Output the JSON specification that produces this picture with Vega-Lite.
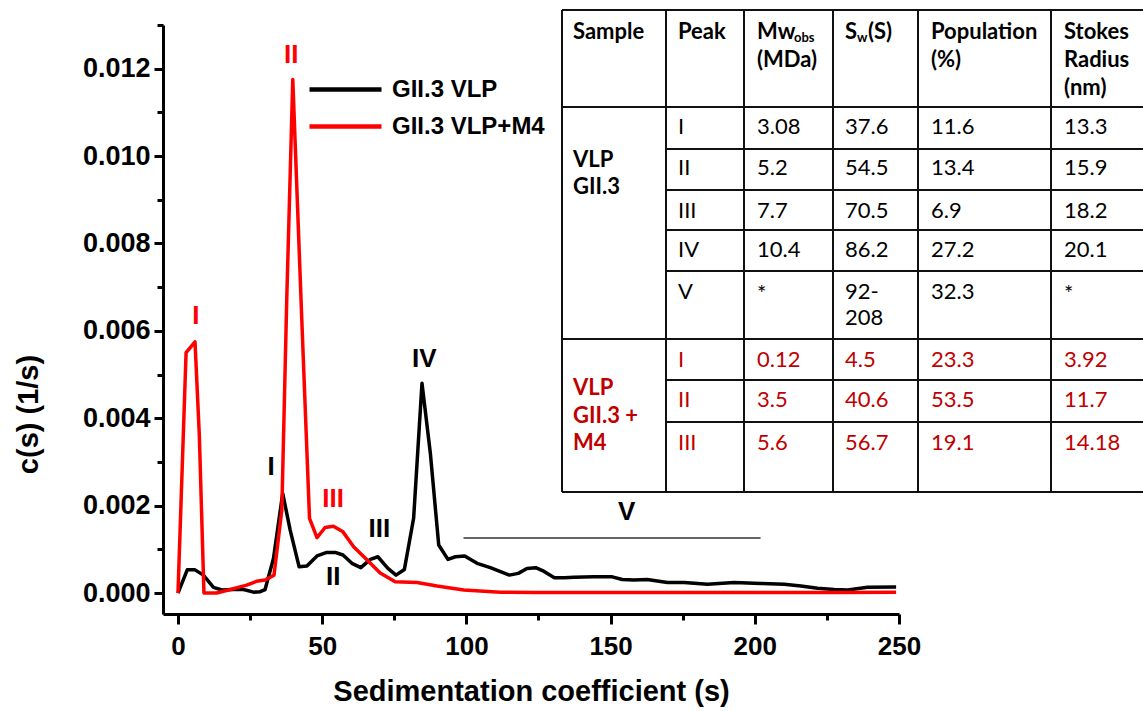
{
  "$schema": "https://vega.github.io/schema/vega-lite/v6.json",
  "width": 736,
  "height": 589,
  "autosize": {"type": "none"},
  "padding": {"left": 163, "top": 25, "right": 244, "bottom": 97},
  "background": "white",
  "config": {"view": {"stroke": null}, "font": "Liberation Sans"},
  "datasets": {
    "curves": [
      {"series": "GII.3 VLP", "s": 0, "c": 0},
      {"series": "GII.3 VLP", "s": 3.2, "c": 0.00053},
      {"series": "GII.3 VLP", "s": 5.9, "c": 0.00053},
      {"series": "GII.3 VLP", "s": 8.8, "c": 0.00041},
      {"series": "GII.3 VLP", "s": 12.3, "c": 0.00013},
      {"series": "GII.3 VLP", "s": 15.2, "c": 0.00007},
      {"series": "GII.3 VLP", "s": 19.2, "c": 0.00008},
      {"series": "GII.3 VLP", "s": 22.7, "c": 0.00008},
      {"series": "GII.3 VLP", "s": 26.2, "c": 0.00002},
      {"series": "GII.3 VLP", "s": 28.5, "c": 0.00003},
      {"series": "GII.3 VLP", "s": 30.2, "c": 0.00008},
      {"series": "GII.3 VLP", "s": 33.1, "c": 0.00079},
      {"series": "GII.3 VLP", "s": 36.3, "c": 0.00228},
      {"series": "GII.3 VLP", "s": 38.9, "c": 0.00144},
      {"series": "GII.3 VLP", "s": 42.0, "c": 0.0006},
      {"series": "GII.3 VLP", "s": 44.7, "c": 0.00062},
      {"series": "GII.3 VLP", "s": 48.2, "c": 0.00085},
      {"series": "GII.3 VLP", "s": 51.6, "c": 0.00093},
      {"series": "GII.3 VLP", "s": 54.5, "c": 0.00093},
      {"series": "GII.3 VLP", "s": 57.2, "c": 0.00087},
      {"series": "GII.3 VLP", "s": 60.3, "c": 0.00068},
      {"series": "GII.3 VLP", "s": 63.4, "c": 0.00058},
      {"series": "GII.3 VLP", "s": 66.7, "c": 0.00077},
      {"series": "GII.3 VLP", "s": 69.3, "c": 0.00083},
      {"series": "GII.3 VLP", "s": 72.7, "c": 0.00057},
      {"series": "GII.3 VLP", "s": 75.6, "c": 0.00041},
      {"series": "GII.3 VLP", "s": 78.5, "c": 0.00054},
      {"series": "GII.3 VLP", "s": 81.7, "c": 0.00171},
      {"series": "GII.3 VLP", "s": 84.6, "c": 0.0048},
      {"series": "GII.3 VLP", "s": 87.5, "c": 0.0032},
      {"series": "GII.3 VLP", "s": 90.4, "c": 0.0011},
      {"series": "GII.3 VLP", "s": 93.6, "c": 0.00077},
      {"series": "GII.3 VLP", "s": 96.2, "c": 0.00083},
      {"series": "GII.3 VLP", "s": 99.4, "c": 0.00085},
      {"series": "GII.3 VLP", "s": 103.7, "c": 0.00068},
      {"series": "GII.3 VLP", "s": 108.3, "c": 0.00058},
      {"series": "GII.3 VLP", "s": 111.8, "c": 0.00049},
      {"series": "GII.3 VLP", "s": 114.9, "c": 0.00041},
      {"series": "GII.3 VLP", "s": 118.0, "c": 0.00045},
      {"series": "GII.3 VLP", "s": 121.0, "c": 0.00056},
      {"series": "GII.3 VLP", "s": 124.0, "c": 0.00058},
      {"series": "GII.3 VLP", "s": 126.8, "c": 0.0005},
      {"series": "GII.3 VLP", "s": 130.5, "c": 0.00035},
      {"series": "GII.3 VLP", "s": 134.0, "c": 0.00035},
      {"series": "GII.3 VLP", "s": 137.3, "c": 0.00036},
      {"series": "GII.3 VLP", "s": 144.2, "c": 0.00037},
      {"series": "GII.3 VLP", "s": 150.6, "c": 0.00037},
      {"series": "GII.3 VLP", "s": 154.0, "c": 0.00031},
      {"series": "GII.3 VLP", "s": 158.1, "c": 0.0003},
      {"series": "GII.3 VLP", "s": 162.7, "c": 0.00031},
      {"series": "GII.3 VLP", "s": 169.7, "c": 0.00024},
      {"series": "GII.3 VLP", "s": 175.5, "c": 0.00024},
      {"series": "GII.3 VLP", "s": 183.6, "c": 0.0002},
      {"series": "GII.3 VLP", "s": 192.8, "c": 0.00024},
      {"series": "GII.3 VLP", "s": 202.1, "c": 0.00022},
      {"series": "GII.3 VLP", "s": 210.2, "c": 0.0002},
      {"series": "GII.3 VLP", "s": 216.0, "c": 0.00016},
      {"series": "GII.3 VLP", "s": 221.8, "c": 0.00011},
      {"series": "GII.3 VLP", "s": 227.5, "c": 0.00008},
      {"series": "GII.3 VLP", "s": 232.2, "c": 0.00007},
      {"series": "GII.3 VLP", "s": 239.1, "c": 0.00013},
      {"series": "GII.3 VLP", "s": 249.0, "c": 0.00014},
      {"series": "GII.3 VLP+M4", "s": 0, "c": 0},
      {"series": "GII.3 VLP+M4", "s": 2.8, "c": 0.0055},
      {"series": "GII.3 VLP+M4", "s": 5.9, "c": 0.00575},
      {"series": "GII.3 VLP+M4", "s": 7.4, "c": 0.0036},
      {"series": "GII.3 VLP+M4", "s": 9.0, "c": 0},
      {"series": "GII.3 VLP+M4", "s": 13.4, "c": 0},
      {"series": "GII.3 VLP+M4", "s": 17.5, "c": 0.00007},
      {"series": "GII.3 VLP+M4", "s": 23.8, "c": 0.00018},
      {"series": "GII.3 VLP+M4", "s": 27.3, "c": 0.00027},
      {"series": "GII.3 VLP+M4", "s": 30.2, "c": 0.0003},
      {"series": "GII.3 VLP+M4", "s": 33.3, "c": 0.00041},
      {"series": "GII.3 VLP+M4", "s": 36.0, "c": 0.0019},
      {"series": "GII.3 VLP+M4", "s": 37.7, "c": 0.0067},
      {"series": "GII.3 VLP+M4", "s": 39.8, "c": 0.01175},
      {"series": "GII.3 VLP+M4", "s": 42.9, "c": 0.0063},
      {"series": "GII.3 VLP+M4", "s": 45.6, "c": 0.00171},
      {"series": "GII.3 VLP+M4", "s": 48.2, "c": 0.00127},
      {"series": "GII.3 VLP+M4", "s": 51.0, "c": 0.0015},
      {"series": "GII.3 VLP+M4", "s": 53.9, "c": 0.00153},
      {"series": "GII.3 VLP+M4", "s": 57.2, "c": 0.0014},
      {"series": "GII.3 VLP+M4", "s": 60.9, "c": 0.00106},
      {"series": "GII.3 VLP+M4", "s": 65.5, "c": 0.00076},
      {"series": "GII.3 VLP+M4", "s": 70.1, "c": 0.00046},
      {"series": "GII.3 VLP+M4", "s": 75.3, "c": 0.00026},
      {"series": "GII.3 VLP+M4", "s": 82.9, "c": 0.00024},
      {"series": "GII.3 VLP+M4", "s": 89.8, "c": 0.00016},
      {"series": "GII.3 VLP+M4", "s": 99.1, "c": 0.00007},
      {"series": "GII.3 VLP+M4", "s": 111.8, "c": 0.00002},
      {"series": "GII.3 VLP+M4", "s": 123.3, "c": 0.00001},
      {"series": "GII.3 VLP+M4", "s": 136.0, "c": 0.00001},
      {"series": "GII.3 VLP+M4", "s": 160.0, "c": 0.00001},
      {"series": "GII.3 VLP+M4", "s": 200.0, "c": 0.00001},
      {"series": "GII.3 VLP+M4", "s": 230.0, "c": 0.00001},
      {"series": "GII.3 VLP+M4", "s": 249.0, "c": 0.00002}
    ],
    "peaks": [
      {"series": "GII.3 VLP+M4", "label": "I", "s": 6.2, "c": 0.00634},
      {"series": "GII.3 VLP+M4", "label": "II", "s": 39.3, "c": 0.01232},
      {"series": "GII.3 VLP+M4", "label": "III", "s": 53.8, "c": 0.00215},
      {"series": "GII.3 VLP", "label": "I", "s": 32.3, "c": 0.00288},
      {"series": "GII.3 VLP", "label": "II", "s": 53.8, "c": 0.00037},
      {"series": "GII.3 VLP", "label": "III", "s": 69.8, "c": 0.00146},
      {"series": "GII.3 VLP", "label": "IV", "s": 85.4, "c": 0.00535},
      {"series": "GII.3 VLP", "label": "V", "s": 155.6, "c": 0.00185}
    ],
    "vrange": [
      {"peak": "V", "s": 99, "s2": 202, "c": 0.00126}
    ],
    "tgrid": [
      {"x": 0, "x2": 582, "y": 0, "y2": 0},
      {"x": 0, "x2": 582, "y": 97, "y2": 97},
      {"x": 104, "x2": 582, "y": 139, "y2": 139},
      {"x": 104, "x2": 582, "y": 180, "y2": 180},
      {"x": 104, "x2": 582, "y": 220, "y2": 220},
      {"x": 104, "x2": 582, "y": 261, "y2": 261},
      {"x": 0, "x2": 582, "y": 329, "y2": 329},
      {"x": 104, "x2": 582, "y": 370, "y2": 370},
      {"x": 104, "x2": 582, "y": 412, "y2": 412},
      {"x": 0, "x2": 582, "y": 482, "y2": 482},
      {"x": 0, "x2": 0, "y": 0, "y2": 482},
      {"x": 104, "x2": 104, "y": 0, "y2": 482},
      {"x": 182, "x2": 182, "y": 0, "y2": 482},
      {"x": 271, "x2": 271, "y": 0, "y2": 482},
      {"x": 356, "x2": 356, "y": 0, "y2": 482},
      {"x": 489, "x2": 489, "y": 0, "y2": 482}
    ],
    "ttext": [
      {"kind": "header", "group": "head", "tx": 11, "ty": 22, "text": "Sample"},
      {"kind": "header", "group": "head", "tx": 116, "ty": 22, "text": "Peak"},
      {"kind": "header", "group": "head", "tx": 195, "ty": 22, "text": "Mw"},
      {"kind": "sub", "group": "head", "tx": 232, "ty": 28, "text": "obs"},
      {"kind": "header", "group": "head", "tx": 195, "ty": 50, "text": "(MDa)"},
      {"kind": "header", "group": "head", "tx": 283, "ty": 22, "text": "S"},
      {"kind": "sub", "group": "head", "tx": 295, "ty": 28, "text": "w"},
      {"kind": "header", "group": "head", "tx": 306, "ty": 22, "text": "(S)"},
      {"kind": "header", "group": "head", "tx": 369, "ty": 22, "text": "Population"},
      {"kind": "header", "group": "head", "tx": 369, "ty": 50, "text": "(%)"},
      {"kind": "header", "group": "head", "tx": 502, "ty": 22, "text": "Stokes"},
      {"kind": "header", "group": "head", "tx": 502, "ty": 50, "text": "Radius"},
      {"kind": "header", "group": "head", "tx": 502, "ty": 78, "text": "(nm)"},
      {"kind": "sample", "group": "VLP GII.3", "tx": 11, "ty": 150, "text": "VLP"},
      {"kind": "sample", "group": "VLP GII.3", "tx": 11, "ty": 177, "text": "GII.3"},
      {"kind": "sample", "group": "VLP GII.3 + M4", "tx": 11, "ty": 378, "text": "VLP"},
      {"kind": "sample", "group": "VLP GII.3 + M4", "tx": 11, "ty": 406, "text": "GII.3 +"},
      {"kind": "sample", "group": "VLP GII.3 + M4", "tx": 11, "ty": 433, "text": "M4"},
      {"kind": "cell", "group": "VLP GII.3", "tx": 116, "ty": 117, "text": "I"},
      {"kind": "cell", "group": "VLP GII.3", "tx": 195, "ty": 117, "text": "3.08"},
      {"kind": "cell", "group": "VLP GII.3", "tx": 283, "ty": 117, "text": "37.6"},
      {"kind": "cell", "group": "VLP GII.3", "tx": 369, "ty": 117, "text": "11.6"},
      {"kind": "cell", "group": "VLP GII.3", "tx": 502, "ty": 117, "text": "13.3"},
      {"kind": "cell", "group": "VLP GII.3", "tx": 116, "ty": 158, "text": "II"},
      {"kind": "cell", "group": "VLP GII.3", "tx": 195, "ty": 158, "text": "5.2"},
      {"kind": "cell", "group": "VLP GII.3", "tx": 283, "ty": 158, "text": "54.5"},
      {"kind": "cell", "group": "VLP GII.3", "tx": 369, "ty": 158, "text": "13.4"},
      {"kind": "cell", "group": "VLP GII.3", "tx": 502, "ty": 158, "text": "15.9"},
      {"kind": "cell", "group": "VLP GII.3", "tx": 116, "ty": 201, "text": "III"},
      {"kind": "cell", "group": "VLP GII.3", "tx": 195, "ty": 201, "text": "7.7"},
      {"kind": "cell", "group": "VLP GII.3", "tx": 283, "ty": 201, "text": "70.5"},
      {"kind": "cell", "group": "VLP GII.3", "tx": 369, "ty": 201, "text": "6.9"},
      {"kind": "cell", "group": "VLP GII.3", "tx": 502, "ty": 201, "text": "18.2"},
      {"kind": "cell", "group": "VLP GII.3", "tx": 116, "ty": 240, "text": "IV"},
      {"kind": "cell", "group": "VLP GII.3", "tx": 195, "ty": 240, "text": "10.4"},
      {"kind": "cell", "group": "VLP GII.3", "tx": 283, "ty": 240, "text": "86.2"},
      {"kind": "cell", "group": "VLP GII.3", "tx": 369, "ty": 240, "text": "27.2"},
      {"kind": "cell", "group": "VLP GII.3", "tx": 502, "ty": 240, "text": "20.1"},
      {"kind": "cell", "group": "VLP GII.3", "tx": 116, "ty": 282, "text": "V"},
      {"kind": "cell", "group": "VLP GII.3", "tx": 195, "ty": 284, "text": "*"},
      {"kind": "cell", "group": "VLP GII.3", "tx": 283, "ty": 282, "text": "92-"},
      {"kind": "cell", "group": "VLP GII.3", "tx": 283, "ty": 308, "text": "208"},
      {"kind": "cell", "group": "VLP GII.3", "tx": 369, "ty": 282, "text": "32.3"},
      {"kind": "cell", "group": "VLP GII.3", "tx": 502, "ty": 284, "text": "*"},
      {"kind": "cell", "group": "VLP GII.3 + M4", "tx": 116, "ty": 350, "text": "I"},
      {"kind": "cell", "group": "VLP GII.3 + M4", "tx": 195, "ty": 350, "text": "0.12"},
      {"kind": "cell", "group": "VLP GII.3 + M4", "tx": 283, "ty": 350, "text": "4.5"},
      {"kind": "cell", "group": "VLP GII.3 + M4", "tx": 369, "ty": 350, "text": "23.3"},
      {"kind": "cell", "group": "VLP GII.3 + M4", "tx": 502, "ty": 350, "text": "3.92"},
      {"kind": "cell", "group": "VLP GII.3 + M4", "tx": 116, "ty": 390, "text": "II"},
      {"kind": "cell", "group": "VLP GII.3 + M4", "tx": 195, "ty": 390, "text": "3.5"},
      {"kind": "cell", "group": "VLP GII.3 + M4", "tx": 283, "ty": 390, "text": "40.6"},
      {"kind": "cell", "group": "VLP GII.3 + M4", "tx": 369, "ty": 390, "text": "53.5"},
      {"kind": "cell", "group": "VLP GII.3 + M4", "tx": 502, "ty": 390, "text": "11.7"},
      {"kind": "cell", "group": "VLP GII.3 + M4", "tx": 116, "ty": 433, "text": "III"},
      {"kind": "cell", "group": "VLP GII.3 + M4", "tx": 195, "ty": 433, "text": "5.6"},
      {"kind": "cell", "group": "VLP GII.3 + M4", "tx": 283, "ty": 433, "text": "56.7"},
      {"kind": "cell", "group": "VLP GII.3 + M4", "tx": 369, "ty": 433, "text": "19.1"},
      {"kind": "cell", "group": "VLP GII.3 + M4", "tx": 502, "ty": 433, "text": "14.18"}
    ]
  },
  "layer": [
    {
      "encoding": {
        "x": {
          "field": "s", "type": "quantitative",
          "scale": {"domain": [-5.2, 250], "nice": false, "zero": false},
          "axis": {
            "title": "Sedimentation coefficient (s)",
            "values": [0, 25, 50, 75, 100, 125, 150, 175, 200, 225, 250],
            "labelExpr": "datum.value % 50 == 0 ? datum.label : ''",
            "format": "d",
            "grid": false,
            "labelFlush": false,
            "labelOverlap": false,
            "domainColor": "black", "domainWidth": 3,
            "tickColor": "black", "tickWidth": 3,
            "tickSize": {"condition": {"test": "datum.value % 50 == 0", "value": 10}, "value": 6},
            "labelPadding": 9,
            "labelFont": "Liberation Sans", "labelFontSize": 26, "labelFontWeight": "bold", "labelColor": "black",
            "titleFont": "Liberation Sans", "titleFontSize": 29, "titleFontWeight": "bold", "titleColor": "black",
            "titleY": 77, "titleBaseline": "middle"
          }
        },
        "y": {
          "field": "c", "type": "quantitative",
          "scale": {"domain": [-0.00048, 0.013], "nice": false, "zero": false},
          "axis": {
            "title": "c(s) (1/s)",
            "values": [0, 0.001, 0.002, 0.003, 0.004, 0.005, 0.006, 0.007, 0.008, 0.009, 0.01, 0.011, 0.012, 0.013],
            "labelExpr": "round(datum.value * 1000) % 2 == 0 ? format(datum.value, '.3f') : ''",
            "grid": false,
            "labelOverlap": false,
            "labelFlush": false,
            "domainColor": "black", "domainWidth": 3,
            "tickColor": "black", "tickWidth": 3,
            "tickSize": {"condition": {"test": "round(datum.value * 1000) % 2 == 0", "value": 9}, "value": 6},
            "labelPadding": 4,
            "labelFont": "Liberation Sans", "labelFontSize": 27, "labelFontWeight": "bold", "labelColor": "black",
            "titleFont": "Liberation Sans", "titleFontSize": 29, "titleFontWeight": "bold", "titleColor": "black",
            "titleX": -135, "titleY": 389, "titleAngle": -90, "titleAlign": "center", "titleBaseline": "middle"
          }
        }
      },
      "layer": [
        {
          "data": {"name": "curves"},
          "mark": {"type": "line", "strokeWidth": 3.5, "strokeJoin": "round"},
          "encoding": {
            "color": {
              "field": "series", "type": "nominal",
              "scale": {"domain": ["GII.3 VLP", "GII.3 VLP+M4"], "range": ["#000000", "#ff0000"]},
              "legend": {
                "title": null, "orient": "none", "legendX": 162, "legendY": 44,
                "symbolType": "M-2,0H2", "symbolSize": 1296, "symbolStrokeWidth": 4.5,
                "labelFont": "Liberation Sans", "labelFontSize": 24, "labelFontWeight": "bold", "labelColor": "black",
                "labelOffset": 26, "rowPadding": 4, "padding": 0
              }
            }
          }
        },
        {
          "data": {"name": "peaks"},
          "mark": {"type": "text", "font": "Liberation Sans", "fontSize": 26, "fontWeight": "bold", "align": "center", "baseline": "middle"},
          "encoding": {
            "text": {"field": "label"},
            "color": {"field": "series", "type": "nominal"}
          }
        },
        {
          "data": {"name": "vrange"},
          "mark": {"type": "rule", "color": "#333333", "strokeWidth": 1.5},
          "encoding": {
            "x2": {"field": "s2"}
          }
        }
      ]
    },
    {
      "encoding": {
        "x": {"field": "x", "type": "quantitative", "scale": {"domain": [0, 582], "range": [399, 981], "nice": false, "zero": false}, "axis": null},
        "y": {"field": "y", "type": "quantitative", "scale": {"domain": [0, 482], "range": [-15, 467], "nice": false, "zero": false}, "axis": null}
      },
      "layer": [
        {
          "data": {"name": "tgrid"},
          "mark": {"type": "rule", "color": "#111111", "strokeWidth": 2},
          "encoding": {
            "x2": {"field": "x2"},
            "y2": {"field": "y2"}
          }
        },
        {
          "data": {"name": "ttext"},
          "transform": [{"filter": "datum.kind == 'header'"}],
          "mark": {"type": "text", "font": "Lato", "fontSize": 22, "fontWeight": "bold", "align": "left", "baseline": "middle", "color": "black"},
          "encoding": {
            "x": {"field": "tx", "type": "quantitative"},
            "y": {"field": "ty", "type": "quantitative"},
            "text": {"field": "text"}
          }
        },
        {
          "data": {"name": "ttext"},
          "transform": [{"filter": "datum.kind == 'sub'"}],
          "mark": {"type": "text", "font": "Lato", "fontSize": 13, "fontWeight": "bold", "align": "left", "baseline": "middle", "color": "black"},
          "encoding": {
            "x": {"field": "tx", "type": "quantitative"},
            "y": {"field": "ty", "type": "quantitative"},
            "text": {"field": "text"}
          }
        },
        {
          "data": {"name": "ttext"},
          "transform": [{"filter": "datum.kind == 'sample'"}],
          "mark": {"type": "text", "font": "Lato", "fontSize": 22, "fontWeight": "bold", "align": "left", "baseline": "middle"},
          "encoding": {
            "x": {"field": "tx", "type": "quantitative"},
            "y": {"field": "ty", "type": "quantitative"},
            "text": {"field": "text"},
            "color": {"field": "group", "type": "nominal", "scale": {"domain": ["VLP GII.3", "VLP GII.3 + M4"], "range": ["#000000", "#c00000"]}, "legend": null}
          }
        },
        {
          "data": {"name": "ttext"},
          "transform": [{"filter": "datum.kind == 'cell'"}],
          "mark": {"type": "text", "font": "Lato", "fontSize": 22, "fontWeight": "normal", "align": "left", "baseline": "middle"},
          "encoding": {
            "x": {"field": "tx", "type": "quantitative"},
            "y": {"field": "ty", "type": "quantitative"},
            "text": {"field": "text"},
            "fontSize": {"condition": {"test": "datum.text == '*'", "value": 30}, "value": 22},
            "color": {"field": "group", "type": "nominal", "scale": {"domain": ["VLP GII.3", "VLP GII.3 + M4"], "range": ["#000000", "#c00000"]}, "legend": null}
          }
        }
      ]
    }
  ],
  "resolve": {
    "scale": {"x": "independent", "y": "independent", "color": "independent"},
    "axis": {"x": "independent", "y": "independent"},
    "legend": {"color": "independent"}
  }
}
